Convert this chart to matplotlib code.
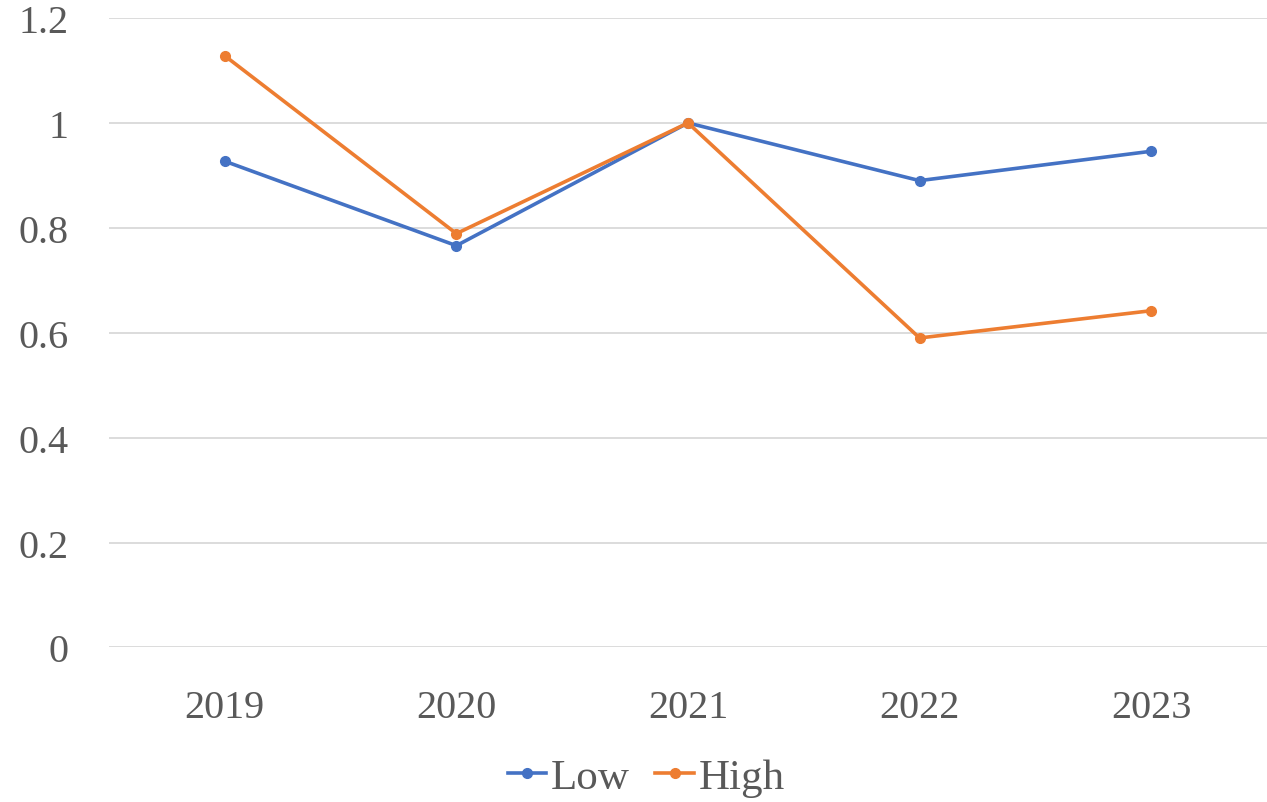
import matplotlib
matplotlib.use("Agg")
import matplotlib.pyplot as plt
from matplotlib.lines import Line2D

years = ["2019", "2020", "2021", "2022", "2023"]
low = [0.927, 0.766, 1.0, 0.890, 0.946]
high = [1.128, 0.789, 1.0, 0.590, 0.642]
yticks = [0, 0.2, 0.4, 0.6, 0.8, 1.0, 1.2]
ytick_labels = ["0", "0.2", "0.4", "0.6", "0.8", "1", "1.2"]

BLUE = "#4472C4"
ORANGE = "#ED7D31"
TEXT = "#595959"
GRID = "#D9D9D9"

plt.rcParams["font.family"] = ["Liberation Serif", "DejaVu Serif"]

fig = plt.figure(figsize=(12.67, 8.03), dpi=100)
ax = fig.add_axes([0.086, 0.1925, 0.914, 0.7838])

x = list(range(len(years)))
ax.plot(x, low, color=BLUE, lw=2.6, marker="o", ms=7, label="Low",
        solid_capstyle="round", zorder=3)
ax.plot(x, high, color=ORANGE, lw=2.6, marker="o", ms=7, label="High",
        solid_capstyle="round", zorder=3)

ax.set_xlim(-0.5, len(years) - 0.5)
ax.set_ylim(0, 1.2)
ax.set_xticks(x)
ax.set_xticklabels(years)
ax.set_yticks(yticks)
ax.set_yticklabels(ytick_labels)
ax.tick_params(axis="both", length=0, labelsize=29, colors=TEXT)
ax.tick_params(axis="y", pad=29)
ax.tick_params(axis="x", pad=30)
ax.yaxis.grid(True, color=GRID, lw=1.3)
ax.set_axisbelow(True)
for s in ax.spines.values():
    s.set_visible(False)

handles = [
    Line2D([], [], color=BLUE, lw=2.6, marker="o", ms=7),
    Line2D([], [], color=ORANGE, lw=2.6, marker="o", ms=7),
]
fig.legend(handles, ["Low", "High"], loc="center", bbox_to_anchor=(0.51, 0.031),
           ncol=2, frameon=False, fontsize=31, labelcolor=TEXT,
           handlelength=0.9, handletextpad=0.1, columnspacing=0.6)

fig.savefig("out.png", dpi=100)
